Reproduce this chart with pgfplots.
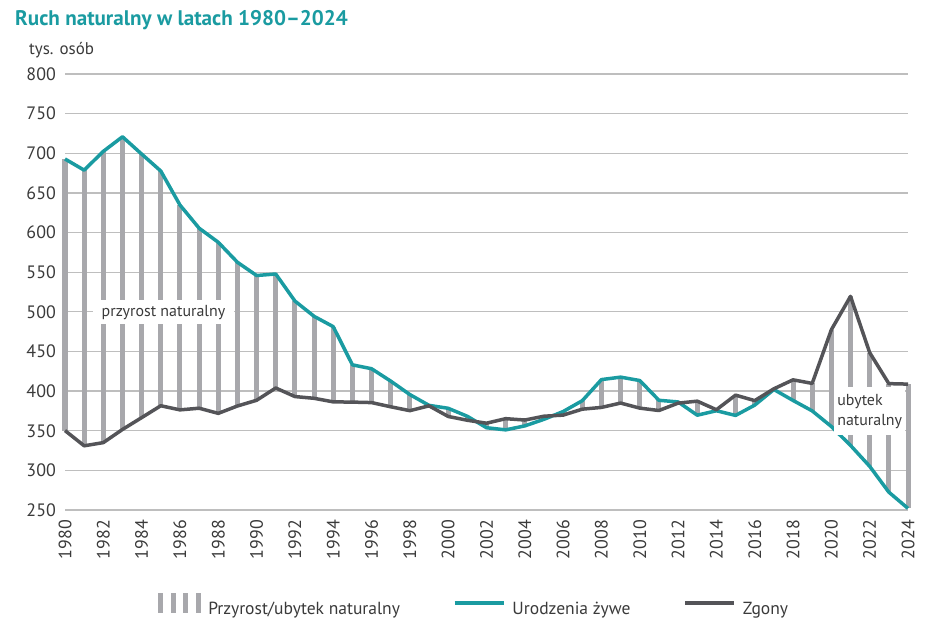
\documentclass[border=0pt]{standalone}
\usepackage{fontspec}
\setmainfont{PT Sans}
\usepackage{pgfplots}
\pgfplotsset{compat=1.18}
\usepackage{pgfplotstable}
\definecolor{teal1}{HTML}{1A9BA1}
\definecolor{darkl}{HTML}{545458}
\definecolor{barc}{HTML}{A8A8AC}
\definecolor{gridc}{HTML}{BEBEBE}
\definecolor{txt}{HTML}{3A3A3A}

\pgfplotstableread{
year b d
1980 692.8 350.2
1981 678.7 331.0
1982 702.4 335.0
1983 720.8 351.6
1984 699.0 366.5
1985 677.6 381.5
1986 634.7 376.3
1987 605.5 378.4
1988 587.7 371.9
1989 562.5 381.2
1990 545.8 388.4
1991 547.7 403.9
1992 513.6 393.1
1993 494.3 390.9
1994 481.3 386.4
1995 433.1 386.1
1996 428.2 385.5
1997 412.6 380.2
1998 395.6 375.3
1999 382.0 381.4
2000 378.3 368.0
2001 368.2 363.2
2002 353.8 359.5
2003 351.1 365.2
2004 356.1 363.5
2005 364.4 368.3
2006 374.2 369.7
2007 387.9 377.2
2008 414.5 379.4
2009 417.6 384.9
2010 413.3 378.5
2011 388.4 375.5
2012 386.3 384.8
2013 369.6 387.3
2014 375.2 376.5
2015 369.3 394.9
2016 382.3 388.0
2017 402.0 402.9
2018 388.2 414.2
2019 375.0 409.7
2020 355.3 477.4
2021 331.5 519.5
2022 305.1 448.5
2023 272.5 409.4
2024 252.0 408.8
}\data

\begin{document}
\begin{tikzpicture}
\path[use as bounding box] (0,0) rectangle (948bp,622bp);
\begin{axis}[
  at={(65bp,112bp)}, anchor=south west,
  scale only axis, width=843bp, height=436bp,
  xmin=1980, xmax=2024, ymin=250, ymax=800,
  clip=false,
  axis line style={draw=none},
  ytick={250,300,...,800},
  xtick={1980,1982,...,2024},
  major tick length=0pt,
  ymajorgrids, grid style={gridc, line width=1.3bp},
  tick label style={font=\fontsize{18}{18}\selectfont, text=txt},
  /pgf/number format/assume math mode=true,
  /pgf/number format/1000 sep={},
  yticklabel style={anchor=east, inner sep=0pt},
  yticklabel shift=9bp,
  xticklabel style={rotate=90, anchor=east, inner sep=0pt},
  xticklabel shift=10bp,
  legend columns=3,
  legend style={draw=none, fill=none, at={(0.484,-0.2133)}, anchor=center,
    font=\fontsize{17.6}{17.6}\selectfont, text=txt, nodes={inner sep=0pt},
    column sep=7bp,
    /tikz/every even column/.append style={column sep=53bp}},
]
\addplot[draw=none, mark=none,
  legend image code/.code={%
    \foreach \k in {0,1,2,3}{\draw[barc, line width=5bp] ({2.5bp+\k*12.8bp},-4bp) -- ({2.5bp+\k*12.8bp},16bp);}},
  error bars/.cd, y dir=both, y explicit, error mark=none,
  error bar style={line width=5bp, draw=barc}]
  table[x=year, y expr=(\thisrow{b}+\thisrow{d})/2,
        y error expr=abs(\thisrow{b}-\thisrow{d})/2] {\data};
\addlegendentry{Przyrost/ubytek naturalny}
\addplot[teal1, line width=3.5bp, line join=round, mark=none,
  legend image code/.code={\draw[teal1, line width=3.5bp] (0bp,6bp) -- (49bp,6bp);}]
  table[x=year, y=b] {\data};
\addlegendentry{Urodzenia żywe}
\addplot[darkl, line width=3.5bp, line join=round, mark=none,
  legend image code/.code={\draw[darkl, line width=3.5bp] (0bp,6bp) -- (49bp,6bp);}]
  table[x=year, y=d] {\data};
\addlegendentry{Zgony}
\node[fill=white, inner xsep=9bp, minimum height=24bp, font=\fontsize{16}{16}\selectfont, text=txt]
  at (axis cs:1985.14,499.4) {przyrost naturalny};
\node[fill=white, minimum width=71bp, minimum height=48bp, align=left, font=\fontsize{16}{20}\selectfont, text=txt]
  at (axis cs:2022.0,374.7) {ubytek\\naturalny};
\end{axis}
\node[anchor=base west, inner sep=0pt, font=\fontsize{21.2}{21.2}\selectfont\bfseries, text=teal1]
  at (15bp,596bp) {Ruch naturalny w latach 1980–2024};
\node[anchor=base west, inner sep=0pt, font=\fontsize{17}{17}\selectfont, text=txt]
  at (29bp,567bp) {tys. osób};
\end{tikzpicture}
\end{document}
